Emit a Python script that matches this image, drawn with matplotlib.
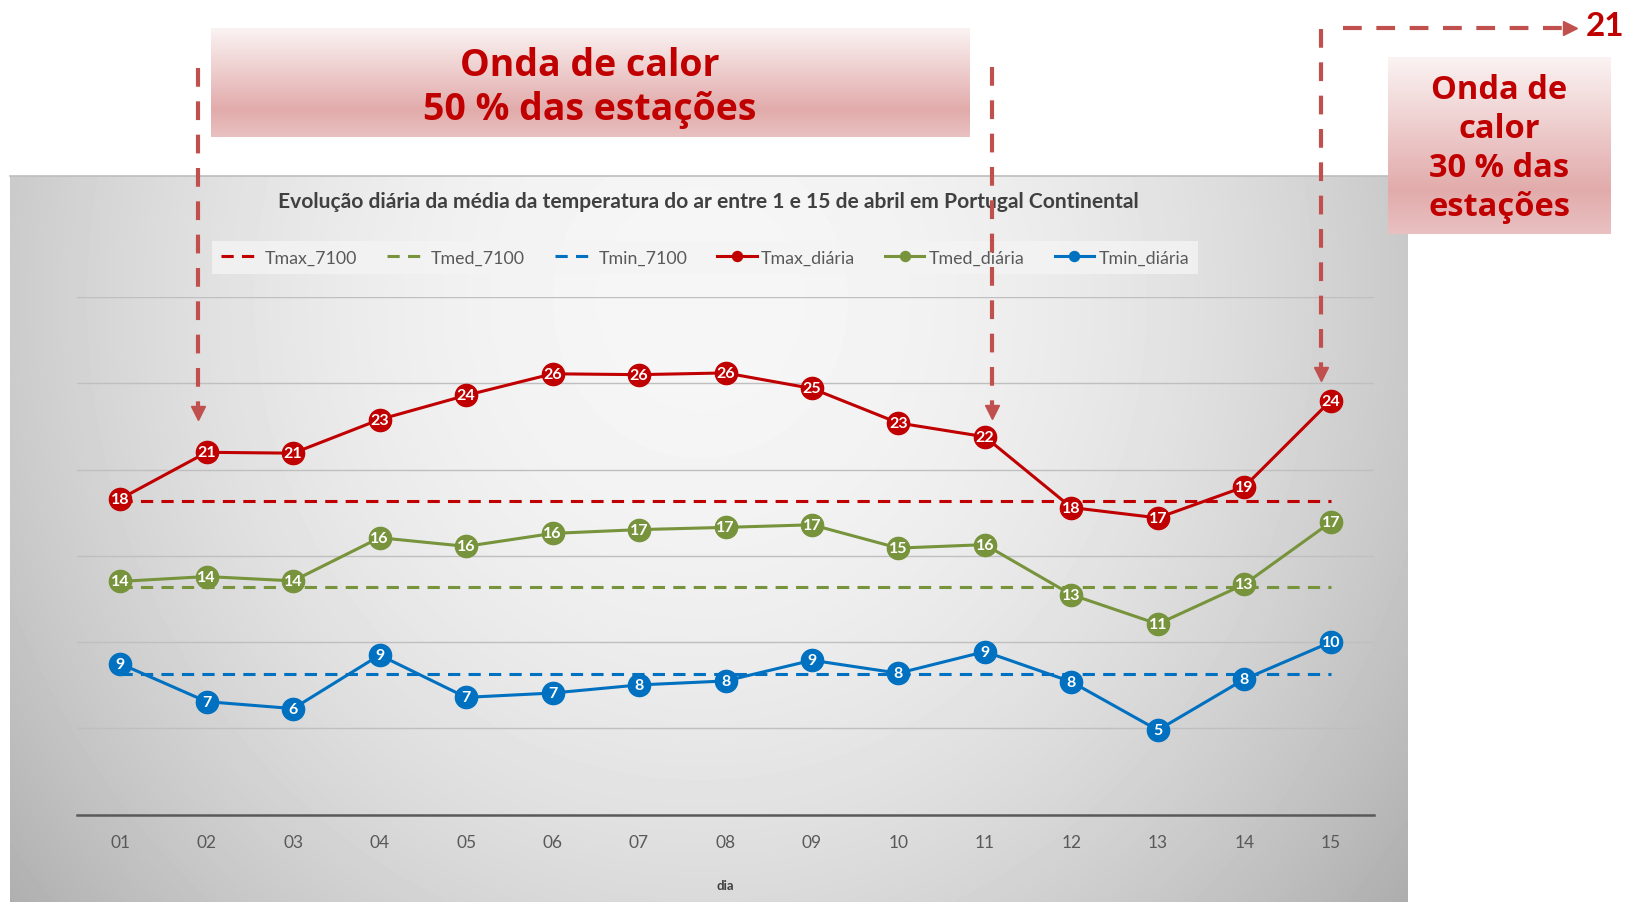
import numpy as np
import matplotlib
matplotlib.use("Agg")
import matplotlib.pyplot as plt
from matplotlib.colors import LinearSegmentedColormap

plt.rcParams['font.family'] = ['Lato', 'DejaVu Sans']

# dados (média diária em Portugal Continental, 1-15 abril)
dias = ['01', '02', '03', '04', '05', '06', '07', '08', '09', '10', '11', '12', '13', '14', '15']
tmax_diaria = [18.3, 21.0, 20.95, 22.9, 24.3, 25.55, 25.5, 25.6, 24.7, 22.7, 21.9, 17.8, 17.2, 19.0, 24.0]
tmed_diaria = [13.52, 13.8, 13.55, 16.05, 15.55, 16.3, 16.52, 16.65, 16.8, 15.45, 15.65, 12.75, 11.05, 13.35, 16.95]
tmin_diaria = [8.75, 6.55, 6.15, 9.25, 6.8, 7.05, 7.52, 7.75, 8.95, 8.2, 9.45, 7.7, 4.9, 7.85, 10.0]
tmax_7100 = 18.2
tmed_7100 = 13.2
tmin_7100 = 8.15

titulo = "Evolução diária da média da temperatura do ar entre 1 e 15 de abril em Portugal Continental"
onda_50 = "Onda de calor\n50 % das estações"
onda_30 = "Onda de\ncalor\n30 % das\nestações"
dia_fim = "21"

RED, GREEN, BLUE = '#C00000', '#77933C', '#0070C0'
ARROW = '#C0504D'

W, H = 1628, 903
fig = plt.figure(figsize=(W / 100, H / 100), dpi=100)


def px_box(x0, y0, x1, y1):
    return [x0 / W, 1 - y1 / H, (x1 - x0) / W, (y1 - y0) / H]


# fundo do gráfico (gradiente cinzento)
bg = fig.add_axes(px_box(10, 177, 1408, 903), zorder=0)
bg.axis('off')
yy, xx = np.mgrid[177:903, 10:1408]
r2 = ((xx - 700) / 650.0) ** 2 + ((yy - 300) / 700.0) ** 2
shade = np.clip(246 - 38 * r2, 0, 255) / 255
bg.imshow(shade, cmap='gray', vmin=0, vmax=1, aspect='auto', extent=(0, 1, 0, 1))
bg.plot([0, 1], [1, 1], color='#bdbdbd', lw=1.2, transform=bg.transAxes, clip_on=False)
bg.set_xlim(0, 1)
bg.set_ylim(0, 1)

# eixo principal
ax = fig.add_axes(px_box(77, 298, 1374, 815.7), zorder=2)
ax.set_facecolor('none')
x = np.arange(1, len(dias) + 1)

ax.plot([x[0], x[-1]], [tmax_7100, tmax_7100], color=RED, lw=2.2, ls=(0, (4, 2.7)), label='Tmax_7100', zorder=2)
ax.plot([x[0], x[-1]], [tmed_7100, tmed_7100], color=GREEN, lw=2.2, ls=(0, (4, 2.7)), label='Tmed_7100', zorder=2)
ax.plot([x[0], x[-1]], [tmin_7100, tmin_7100], color=BLUE, lw=2.2, ls=(0, (4, 2.7)), label='Tmin_7100', zorder=2)

for serie, cor, nome in [(tmax_diaria, RED, 'Tmax_diária'),
                         (tmed_diaria, GREEN, 'Tmed_diária'),
                         (tmin_diaria, BLUE, 'Tmin_diária')]:
    ax.plot(x, serie, color=cor, lw=2.2, marker='o', markersize=16, label=nome, zorder=4)
    for xi, v in zip(x, serie):
        ax.text(xi, v, f"{v:.0f}", ha='center', va='center', color='white',
                fontsize=11.5, fontweight='bold', zorder=6)

ax.set_xlim(0.5, len(dias) + 0.5)
ax.set_ylim(0, 30)
ax.set_yticks([5, 10, 15, 20, 25, 30])
ax.yaxis.grid(True, color='#bfbfbf', lw=1)
ax.set_axisbelow(True)
ax.tick_params(axis='y', left=False, labelleft=False)
ax.set_xticks(x)
ax.set_xticklabels(dias)
ax.tick_params(axis='x', length=0, pad=14, labelsize=12.5, labelcolor='#595959')
for s in ['left', 'right', 'top']:
    ax.spines[s].set_visible(False)
ax.spines['bottom'].set_color('#595959')
ax.spines['bottom'].set_linewidth(1.8)
ax.set_xlabel('dia', fontsize=9.5, fontweight='bold', color='#404040', labelpad=21)

leg = ax.legend(loc='center', bbox_to_anchor=(705 / W, 1 - 258.5 / H), bbox_transform=fig.transFigure,
                ncol=6, fontsize=12.8, frameon=True, fancybox=False, edgecolor='none',
                facecolor='#f4f4f4', framealpha=0.8, handlelength=2.2, handletextpad=0.25,
                columnspacing=1.7, borderpad=0.5, markerscale=0.45, labelcolor='#595959')

fig.text(708 / W, 1 - 202 / H, titulo, ha='center', va='center', fontsize=15.1,
         fontweight='bold', color='#404040', zorder=4)

# camada de anotações (coordenadas em pixels)
ov = fig.add_axes([0, 0, 1, 1], zorder=5)
ov.set_facecolor('none')
ov.axis('off')

pink = LinearSegmentedColormap.from_list('pink', [(0, '#fbf3f3'), (0.75, '#e2abab'), (1, '#e9c1c1')])
grad = np.linspace(0, 1, 256).reshape(-1, 1)
ov.imshow(grad, cmap=pink, aspect='auto', extent=(211, 970, 138, 29), zorder=1)
ov.imshow(grad, cmap=pink, aspect='auto', extent=(1388, 1611, 235, 58), zorder=1)
ov.set_xlim(0, W)
ov.set_ylim(H, 0)

ov.text(590, 88, onda_50, ha='center', va='center', fontsize=27, fontweight='bold',
        family=['Open Sans', 'DejaVu Sans'], color=RED, linespacing=1.24, zorder=2)
ov.text(1499, 149, onda_30, ha='center', va='center', fontsize=23.5, fontweight='bold',
        family=['Open Sans', 'DejaVu Sans'], color=RED, linespacing=1.25, zorder=2)

dash = (0, (4.5, 3.5))
for xa, y0, y1 in [(198, 69, 421), (992, 68, 420), (1321, 30, 382)]:
    ov.plot([xa, xa], [y0, y1 - 12], color=ARROW, lw=3, ls=dash, zorder=3)
    ov.plot([xa], [y1 - 7], marker='v', markersize=10, color=ARROW, zorder=3)
ov.plot([1343, 1565], [29, 29], color=ARROW, lw=3, ls=dash, zorder=3)
ov.plot([1570], [29], marker='>', markersize=10, color=ARROW, zorder=3)
ov.text(1605, 26, dia_fim, ha='center', va='center', fontsize=24, fontweight='bold', color=RED, zorder=3)

fig.savefig('out.png', dpi=100)
